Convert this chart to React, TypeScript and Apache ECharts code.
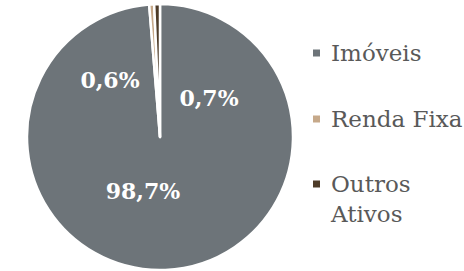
import React, { useEffect, useRef } from "react";
import * as echarts from "echarts";

const categories = ["Imóveis", "Renda Fixa", "Outros Ativos"];
const legendLines = ["Imóveis", "Renda Fixa", "\u00a0\nOutros\nAtivos"];
const values = [98.7, 0.6, 0.7];
const labelTexts = ["98,7%", "0,6%", "0,7%"];
const colors = ["#6d7479", "#c6a98a", "#4d3b28"];
// label anchor points (px)
const labelPos = [
  [143, 191],
  [110, 80],
  [209, 98],
];
// legend icon centre y (px)
const legendY = [53, 119, 184];

export default function App() {
  const ref = useRef<HTMLDivElement>(null);
  useEffect(() => {
    if (!ref.current) return;
    const chart = echarts.init(ref.current, undefined, { renderer: "svg" });
    const lineH = 30;
    const legends = categories.map((c, i) => {
      const nLines = legendLines[i].split("\n").length;
      const top = legendY[i] - (nLines * lineH) / 2;
      return {
        orient: "vertical",
        left: 311,
        top,
        padding: 0,
        itemWidth: 9,
        itemHeight: 9,
        icon: "rect",
        selectedMode: false,
        data: [c],
        formatter: () => legendLines[i],
        textStyle: {
          fontFamily: "DejaVu Serif",
          fontSize: 23,
          color: "#595959",
          lineHeight: lineH,
          padding: [0, 0, 0, 5],
        },
      };
    });
    chart.setOption({
      animation: false,
      color: colors,
      legend: legends,
      series: [
        {
          type: "pie",
          center: [160, 137],
          radius: [0, 133],
          startAngle: 90,
          clockwise: true,
          itemStyle: { borderColor: "#ffffff", borderWidth: 2.5 },
          label: {
            show: true,
            position: "inside",
            formatter: (p: any) => labelTexts[p.dataIndex],
            color: "#ffffff",
            fontFamily: "DejaVu Serif",
            fontWeight: "bold",
            fontSize: 22,
          },
          labelLine: { show: false },
          labelLayout: (p: any) => ({
            x: labelPos[p.dataIndex][0],
            y: labelPos[p.dataIndex][1],
            align: "center",
            verticalAlign: "middle",
          }),
          emphasis: { disabled: true },
          data: categories.map((c, i) => ({ name: c, value: values[i] })),
        },
      ],
    });
    return () => chart.dispose();
  }, []);
  return (
    <div
      ref={ref}
      style={{ position: "fixed", left: 0, top: 0, width: 464, height: 271, background: "#fff" }}
    />
  );
}
